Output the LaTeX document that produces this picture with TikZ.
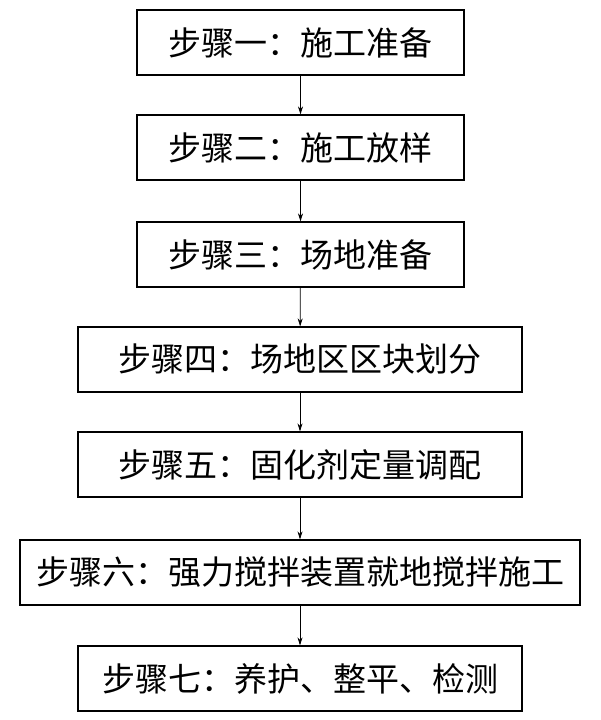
\documentclass[tikz,border=0pt]{standalone}
\usepackage{fontspec}
\newfontfamily\cjk{Noto Sans CJK SC}
\usetikzlibrary{arrows.meta}
\begin{document}
\begin{tikzpicture}[x=1pt,y=-1pt,
  stepbox/.style={draw,line width=1.2pt,inner sep=0pt,font=\cjk\fontsize{33}{36}\selectfont},
  arr/.style={draw,line width=0.8pt,-{Stealth[length=8pt,width=5pt]}}]
\useasboundingbox (0,0) rectangle (600,720);
\node[stepbox,minimum width=327pt,minimum height=65pt] (s1) at (300.5,42.5) {步骤一：施工准备};
\node[stepbox,minimum width=327pt,minimum height=65pt] (s2) at (300.5,147.5) {步骤二：施工放样};
\node[stepbox,minimum width=327pt,minimum height=65pt] (s3) at (300.5,254.5) {步骤三：场地准备};
\node[stepbox,minimum width=444pt,minimum height=65pt] (s4) at (300,359.5) {步骤四：场地区区块划分};
\node[stepbox,minimum width=444pt,minimum height=65pt] (s5) at (300,464.5) {步骤五：固化剂定量调配};
\node[stepbox,minimum width=560pt,minimum height=65pt] (s6) at (300,572.5) {步骤六：强力搅拌装置就地搅拌施工};
\node[stepbox,minimum width=444pt,minimum height=65pt] (s7) at (300,678.5) {步骤七：养护、整平、检测};
\draw[arr] (s1) -- (s2);
\draw[arr] (s2) -- (s3);
\draw[arr] (s3) -- (s4);
\draw[arr] (s4) -- (s5);
\draw[arr] (s5) -- (s6);
\draw[arr] (s6) -- (s7);
\end{tikzpicture}
\end{document}
